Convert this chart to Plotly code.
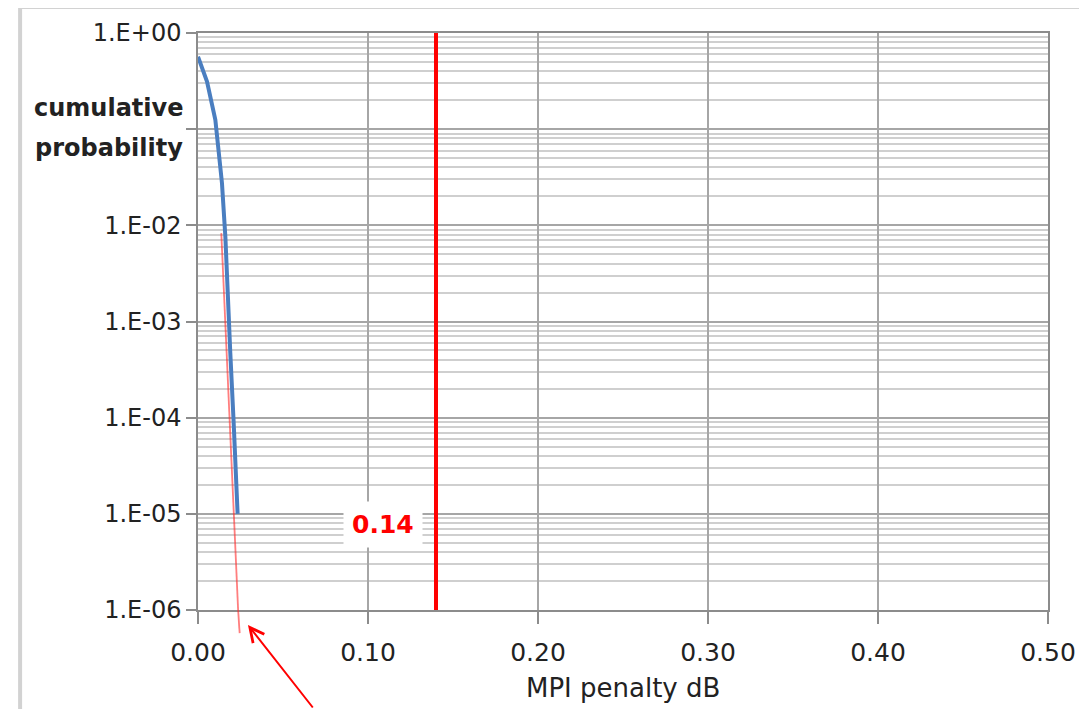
import plotly.graph_objects as go

# ---- data ----
penalty_db = [0.0, 0.0053, 0.0102, 0.0121, 0.0141, 0.0161, 0.0171, 0.0190, 0.0209, 0.0219, 0.0233]
cum_prob = [0.567, 0.312, 0.125, 0.0657, 0.0275, 0.0076, 0.0023, 4.7e-4, 9.5e-5, 3.1e-5, 1.0e-5]

extrap_x = [0.0137, 0.0236]
extrap_y = [0.0083, 1e-6]
extrap_tail_x = 0.0245

threshold = 0.14
y_limits = [1e-6, 1.0]

x_tickvals = [0.0, 0.1, 0.2, 0.3, 0.4, 0.5]
y_tickvals = [1.0, 1e-1, 1e-2, 1e-3, 1e-4, 1e-5, 1e-6]
# the 1.E-01 label is hidden behind the axis caption in the reference
y_ticktext = ["1.E+00", "", "1.E-02", "1.E-03", "1.E-04", "1.E-05", "1.E-06"]

FONT = "DejaVu Sans"
TXT = "#222222"

fig = go.Figure()

# red extrapolation line
fig.add_trace(go.Scatter(x=extrap_x, y=extrap_y, mode="lines",
                         line=dict(color="rgba(255,40,40,0.6)", width=1.8),
                         showlegend=False, hoverinfo="skip"))
# blue measured curve
fig.add_trace(go.Scatter(x=penalty_db, y=cum_prob, mode="lines",
                         line=dict(color="#4a7ec0", width=4),
                         showlegend=False))
# threshold line
fig.add_trace(go.Scatter(x=[threshold, threshold], y=y_limits, mode="lines",
                         line=dict(color="#ff0000", width=4),
                         showlegend=False))

# continuation of extrapolation line below the axis
fig.add_shape(type="line", xref="x", yref="paper",
              x0=extrap_x[-1], y0=0, x1=extrap_tail_x, y1=-0.04,
              line=dict(color="rgba(255,40,40,0.6)", width=1.8))

# outer frame
fig.add_shape(type="rect", xref="paper", yref="paper",
              x0=-0.2093, y0=-0.25, x1=1.06, y1=1.045,
              line=dict(color="#d2d2d2", width=4), fillcolor="rgba(0,0,0,0)", layer="below")

# threshold label
fig.add_annotation(x=threshold, y=-5.11, xref="x", yref="y",
                   text=f"<b>{threshold:.2f}</b>", showarrow=False,
                   xanchor="right", xshift=-13, bgcolor="white", borderpad=8,
                   font=dict(family=FONT, size=25, color="#ff0000"))

# y axis caption (two lines)
fig.add_annotation(x=-0.014, y=-0.78, xref="paper", yref="y",
                   text="<b>cumulative</b>", showarrow=False,
                   xanchor="right", yanchor="middle", bgcolor="white", borderpad=2,
                   font=dict(family=FONT, size=24, color=TXT))
fig.add_annotation(x=-0.014, y=-1.2, xref="paper", yref="y",
                   text="<b>probability</b>", showarrow=False,
                   xanchor="right", yanchor="middle", bgcolor="white", borderpad=2,
                   font=dict(family=FONT, size=24, color=TXT))

# x axis title
fig.add_annotation(x=0.5, y=-0.135, xref="paper", yref="paper",
                   text="MPI penalty dB", showarrow=False,
                   xanchor="center", yanchor="middle",
                   font=dict(family=FONT, size=26, color=TXT))

# red pointer arrow
fig.add_annotation(x=0.0294, y=-0.026, xref="x", yref="paper",
                   text="", showarrow=True, arrowhead=5, arrowsize=1.4,
                   arrowwidth=2, arrowcolor="#ff0000", ax=66, ay=84,
                   standoff=0)

fig.update_xaxes(range=[0, 0.5], tickvals=x_tickvals, tickformat=".2f",
                 showgrid=True, gridcolor="#a6a6a6", gridwidth=1.5,
                 showline=True, linecolor="#8c8c8c", linewidth=1.5, mirror=True,
                 ticks="outside", ticklen=12, tickcolor="#8c8c8c", tickwidth=1.5,
                 ticklabelstandoff=7,
                 tickfont=dict(family=FONT, size=25, color=TXT), zeroline=False)

fig.update_yaxes(type="log", range=[-6, 0], tickvals=y_tickvals, ticktext=y_ticktext,
                 showgrid=True, gridcolor="#a6a6a6", gridwidth=1.5,
                 minor=dict(dtick="D1", showgrid=True, gridcolor="#cfcfcf", gridwidth=1.5,
                            ticks=""),
                 showline=True, linecolor="#8c8c8c", linewidth=1.5, mirror=True,
                 ticks="outside", ticklen=10, tickcolor="#8c8c8c", tickwidth=1.5,
                 tickfont=dict(family=FONT, size=24, color=TXT), zeroline=False)

# the page adds an 8px body margin, so the figure is offset accordingly
fig.update_layout(width=1079, height=701,
                  margin=dict(l=190, r=39, t=25, b=99),
                  paper_bgcolor="white", plot_bgcolor="white",
                  showlegend=False)

fig.write_html("out.html")
